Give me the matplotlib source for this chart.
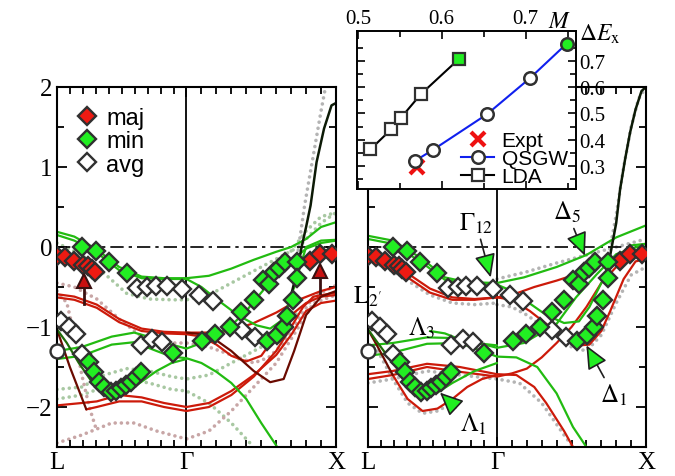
import numpy as np
import matplotlib
matplotlib.use('Agg')
import matplotlib.pyplot as plt
from matplotlib.lines import Line2D

plt.rcParams['font.family'] = ['Liberation Serif', 'DejaVu Serif']
plt.rcParams['mathtext.fontset'] = 'stix'

# ---------------- k-path positions ----------------
KL, KG, KX = -0.866, 0.0, 1.0
k_tick_labels = ['L', 'Γ', 'X']

# ---------------- ARPES points (shared by both panels) ----------------
maj_k = [-0.865, -0.81, -0.75, -0.69, -0.66, -0.635, -0.61, 0.827, 0.893, 0.971]
maj_e = [-0.11, -0.13, -0.18, -0.22, -0.24, -0.27, -0.31, -0.17, -0.09, -0.09]

min_k = [-0.696, -0.602, -0.518, -0.40,
         -0.651, -0.618, -0.584, -0.551, -0.507, -0.473, -0.44, -0.407, -0.373, -0.34, -0.307,
         -0.087,
         0.104, 0.193, 0.289, 0.367, 0.449, 0.511, 0.549, 0.582, 0.616, 0.66, 0.742,
         0.538, 0.604, 0.649, 0.671, 0.711, 0.742]
min_e = [0.004, -0.054, -0.19, -0.325,
         -1.44, -1.567, -1.683, -1.754, -1.817, -1.796, -1.767, -1.725, -1.683, -1.629, -1.567,
         -1.33,
         -1.171, -1.088, -0.996, -0.817, -0.663, -0.413, -0.463, -0.308, -0.267, -0.19, -0.19,
         -1.18, -1.10, -1.004, -0.858, -0.658, -0.392]

avg_k = [-0.84, -0.784, -0.74, -0.696, -0.329, -0.262, -0.207, -0.133, -0.029,
         0.087, 0.176, -0.307, -0.229, -0.162, 0.371, 0.46]
avg_e = [-0.92, -1.0, -1.09, -1.34, -0.516, -0.504, -0.491, -0.491, -0.525,
         -0.60, -0.68, -1.225, -1.15, -1.19, -1.04, -1.12]

circle_k = [KL]
circle_e = [-1.30]

arrow_k = [-0.684, 0.893]
arrow_tip = [-0.43, -0.30]
arrow_base = [-0.71, -0.57]

# ---------------- left panel bands ----------------
left_red = [
    ([-0.866, -0.75, -0.6, -0.45, -0.3, -0.15, 0, 0.15, 0.3, 0.45, 0.6, 0.75, 0.9, 1.0],
     [-0.59, -0.62, -0.72, -0.90, -1.02, -1.06, -1.07, -1.07, -1.05, -0.95, -0.82, -0.66, -0.55, -0.50]),
    ([-0.866, -0.75, -0.6, -0.45, -0.3, -0.15, 0, 0.1, 0.2, 0.3, 0.4, 0.5, 0.6, 0.7, 0.8, 0.9, 1.0],
     [-0.63, -0.66, -0.76, -0.94, -1.05, -1.08, -1.09, -1.12, -1.22, -1.36, -1.43, -1.36, -1.10, -0.85, -0.70, -0.62, -0.60]),
    ([-0.866, -0.7, -0.6, -0.45, -0.3, -0.15, 0, 0.15, 0.3, 0.45, 0.6, 0.7, 0.8, 0.9, 1.0],
     [-1.98, -1.95, -1.93, -1.85, -1.88, -1.95, -2.0, -1.95, -1.80, -1.60, -1.35, -1.10, -0.80, -0.70, -0.67]),
    ([-0.67, -0.6, -0.45, -0.3, -0.15, 0, 0.15, 0.3, 0.45, 0.6, 0.7, 0.78, 0.85, 1.0],
     [-2.03, -2.0, -1.93, -1.93, -2.0, -2.05, -2.0, -1.85, -1.62, -1.30, -1.00, -0.75, -0.62, -0.57]),
]
left_darkred = [
    ([-0.866, -0.78, -0.67], [-1.03, -1.5, -2.03]),
    ([0.0, 0.15, 0.3, 0.45, 0.56, 0.65, 0.72, 0.8, 0.9, 1.0],
     [-1.07, -1.10, -1.30, -1.55, -1.69, -1.65, -1.30, -0.85, -0.62, -0.55]),
]
left_green = [
    ([-0.866, -0.75, -0.6, -0.45, -0.3, -0.15, 0, 0.15, 0.3, 0.45, 0.6, 0.7, 0.8, 0.9, 1.0],
     [0.19, 0.13, -0.03, -0.25, -0.37, -0.39, -0.39, -0.36, -0.27, -0.16, -0.06, 0.0, 0.10, 0.25, 0.31]),
    ([-0.866, -0.75, -0.6, -0.45, -0.3, -0.15, 0, 0.1, 0.2, 0.35, 0.47, 0.56, 0.65, 0.72, 0.8, 0.9, 1.0],
     [0.15, 0.08, -0.07, -0.29, -0.39, -0.40, -0.40, -0.50, -0.65, -0.86, -0.98, -1.02, -0.90, -0.50, 0.0, 0.08, 0.09]),
    ([-0.866, -0.7, -0.5, -0.35, -0.2, -0.1, 0, 0.1, 0.2, 0.3, 0.4, 0.5, 0.6, 0.7, 0.8, 0.9, 1.0],
     [-1.30, -1.25, -1.12, -1.07, -1.15, -1.22, -1.27, -1.20, -1.10, -0.98, -0.80, -0.57, -0.35, -0.18, -0.02, 0.05, 0.08]),
    ([-0.866, -0.7, -0.5, -0.35, -0.2, -0.1, 0, 0.1, 0.2, 0.3, 0.4, 0.5, 0.6, 0.65],
     [-1.40, -1.36, -1.22, -1.19, -1.30, -1.37, -1.39, -1.45, -1.56, -1.70, -1.90, -2.20, -2.48, -2.65]),
    ([-0.62, -0.52, -0.45, -0.35, -0.2, -0.1, 0],
     [-1.72, -1.85, -1.85, -1.75, -1.55, -1.45, -1.40]),
]
left_darkgreen = [
    ([-0.866, -0.8, -0.72, -0.62], [-1.03, -1.20, -1.45, -1.72]),
]
left_black = [
    ([0.70, 0.74, 0.77, 0.80, 0.83, 0.87, 0.92, 0.97, 1.0],
     [-0.60, -0.30, 0.0, 0.25, 0.52, 1.06, 1.48, 1.77, 1.80]),
]
left_dot_green = [
    ([-0.866, -0.7, -0.55, -0.4, -0.25, -0.1, 0, 0.15, 0.3, 0.45, 0.6, 0.75, 0.9, 1.0],
     [0.05, -0.10, -0.33, -0.58, -0.65, -0.66, -0.66, -0.60, -0.45, -0.30, -0.15, 0.0, 0.30, 0.43]),
    ([-0.866, -0.7, -0.55, -0.4, -0.25, -0.1, 0, 0.15, 0.3, 0.45, 0.6, 0.75],
     [-1.78, -1.75, -1.60, -1.52, -1.55, -1.62, -1.65, -1.60, -1.45, -1.30, -1.15, -0.80]),
    ([-0.866, -0.7, -0.55, -0.4, -0.25, -0.1, 0, 0.15, 0.3, 0.45],
     [-1.90, -1.85, -1.75, -1.65, -1.70, -1.78, -1.80, -1.95, -2.20, -2.50]),
    ([0.70, 0.80, 0.90, 1.0], [-0.05, 0.20, 0.38, 0.43]),
]
left_dot_red = [
    ([-0.866, -0.8, -0.75, -0.7, -0.65, -0.6], [-0.55, -0.70, -1.10, -1.60, -2.00, -2.30]),
    ([-0.866, -0.7, -0.5, -0.35, -0.2, 0, 0.15, 0.3, 0.45, 0.6, 0.75, 0.85, 1.0],
     [-2.45, -2.35, -2.20, -2.20, -2.30, -2.40, -2.30, -2.05, -1.75, -1.45, -1.00, -0.70, -0.60]),
    ([-0.866, -0.75, -0.6, -0.45, -0.3, -0.15, 0, 0.15, 0.3, 0.45, 0.55, 0.65, 0.75, 0.85, 1.0],
     [-0.45, -0.50, -0.65, -0.90, -1.12, -1.20, -1.20, -1.25, -1.35, -1.45, -1.38, -1.20, -0.90, -0.62, -0.48]),
]
left_dot_gray = [
    ([0.72, 0.75, 0.79, 0.83, 0.86, 0.90, 0.93, 0.95], [-0.5, 0.0, 0.52, 0.95, 1.27, 1.70, 2.0, 2.2]),
]

# ---------------- right panel bands ----------------
right_red = [
    ([-0.866, -0.75, -0.6, -0.45, -0.3, -0.15, 0, 0.1, 0.22, 0.33, 0.45, 0.55, 0.62, 0.7, 0.76, 0.85, 0.93, 1.0],
     [-0.10, -0.18, -0.33, -0.52, -0.63, -0.65, -0.63, -0.66, -0.80, -0.96, -1.15, -1.23, -1.22, -1.05, -0.80, -0.40, -0.18, -0.15]),
    ([-0.866, -0.75, -0.6, -0.45, -0.3, -0.15, 0, 0.1, 0.25, 0.4, 0.55, 0.7, 0.85, 1.0],
     [-0.14, -0.22, -0.38, -0.57, -0.66, -0.66, -0.63, -0.60, -0.50, -0.42, -0.33, -0.22, -0.11, -0.10]),
    ([-0.866, -0.7, -0.47, -0.25, 0, 0.13, 0.25, 0.33, 0.45, 0.51, 0.6],
     [-1.59, -1.55, -1.46, -1.50, -1.59, -1.60, -1.75, -1.95, -2.30, -2.50, -2.80]),
    ([-0.866, -0.7, -0.47, -0.25, 0, 0.1, 0.2, 0.3, 0.4, 0.5, 0.6, 0.7, 0.8, 0.9, 1.0],
     [-1.65, -1.60, -1.50, -1.56, -1.62, -1.58, -1.52, -1.38, -1.20, -1.00, -0.75, -0.45, -0.25, -0.12, -0.10]),
    ([-0.7, -0.6, -0.5, -0.4, -0.3, -0.2, -0.1, 0],
     [-1.60, -1.90, -2.05, -2.02, -1.90, -1.75, -1.65, -1.60]),
]
right_darkred = [
    ([-0.866, -0.8, -0.7], [-1.03, -1.25, -1.60]),
]
right_green = [
    ([-0.866, -0.7, -0.5, -0.35, -0.2, 0, 0.18, 0.4, 0.6, 0.8, 1.0],
     [0.14, 0.08, -0.15, -0.38, -0.44, -0.45, -0.38, -0.25, -0.10, 0.12, 0.27]),
    ([-0.866, -0.7, -0.5, -0.35, -0.2, 0, 0.1, 0.2, 0.33, 0.45, 0.55, 0.62, 0.7, 0.8, 0.9, 1.0],
     [0.10, 0.04, -0.20, -0.41, -0.46, -0.47, -0.55, -0.68, -0.85, -0.95, -0.93, -0.75, -0.45, -0.15, 0.02, 0.04]),
    ([-0.866, -0.7, -0.47, -0.25, 0, 0.18, 0.4, 0.53, 0.67, 0.8, 1.0],
     [-1.23, -1.20, -1.13, -1.14, -1.26, -1.20, -0.96, -0.63, -0.34, -0.09, 0.04]),
    ([-0.866, -0.7, -0.47, -0.25, 0, 0.13, 0.27, 0.4, 0.51, 0.6, 0.65],
     [-1.36, -1.32, -1.21, -1.20, -1.37, -1.38, -1.50, -1.83, -2.25, -2.50, -2.65]),
    ([-0.45, -0.35, -0.23, -0.1, 0], [-1.05, -1.08, -1.17, -1.21, -1.23]),
    ([-0.6, -0.5, -0.4, -0.3, -0.15, 0], [-1.68, -1.82, -1.82, -1.70, -1.55, -1.45]),
]
right_darkgreen = [
    ([-0.866, -0.8, -0.7, -0.6], [-1.03, -1.20, -1.45, -1.68]),
]
right_black = [
    ([0.72, 0.76, 0.80, 0.826, 0.86, 0.893, 0.93, 0.97, 1.0],
     [-0.40, -0.10, 0.30, 0.72, 1.10, 1.43, 1.72, 1.95, 2.0]),
]
right_dot_gray = [
    ([-0.866, -0.75, -0.6, -0.45, -0.3, -0.15, 0], [-0.17, -0.25, -0.42, -0.60, -0.70, -0.72, -0.70]),
    ([0, 0.2, 0.4, 0.6, 0.8, 1.0], [-0.40, -0.31, -0.20, -0.10, 0.0, 0.10]),
    ([0, 0.1, 0.2, 0.35, 0.5, 0.6, 0.7, 0.8, 0.9, 1.0],
     [-0.72, -0.75, -0.85, -1.05, -1.25, -1.30, -1.10, -0.70, -0.35, -0.25]),
    ([-0.866, -0.7, -0.47, -0.25, 0, 0.15, 0.3, 0.45, 0.55],
     [-1.70, -1.65, -1.55, -1.60, -1.65, -1.70, -1.95, -2.35, -2.60]),
    ([-0.8, -0.7, -0.6, -0.5, -0.4, -0.3], [-1.30, -1.65, -1.95, -2.08, -2.05, -1.95]),
    ([0.75, 0.80, 0.85, 0.90, 0.95, 1.0], [-0.10, 0.40, 1.00, 1.50, 1.85, 2.0]),
]

# ---------------- inset data ----------------
lda_M = [0.515, 0.540, 0.551, 0.575, 0.620]
lda_dE = [0.363, 0.440, 0.482, 0.573, 0.706]
qsgw_M = [0.568, 0.589, 0.654, 0.705, 0.749]
qsgw_dE = [0.319, 0.360, 0.497, 0.634, 0.766]
expt_M = [0.570]
expt_dE = [0.294]

# ---------------- colours ----------------
C_RED = '#cc1a0a'
C_DRED = '#6a0a00'
C_GRN = '#22bb11'
C_DGRN = '#1f6a0a'
C_BLK = '#0c1a06'
C_DOT_G = '#a8c8a2'
C_DOT_R = '#c8a6a6'
C_DOT_GR = '#b4b4b4'
F_RED = '#ee1a12'
F_GRN = '#22ee22'
EDGE = '#303030'
DMS = 9.6

fig = plt.figure(figsize=(6.75, 4.77), dpi=100)
axL = fig.add_axes([57 / 675, 1 - 448 / 477, 279 / 675, 360 / 477])
axR = fig.add_axes([368 / 675, 1 - 448 / 477, 278 / 675, 360 / 477])
axI = fig.add_axes([357 / 675, 1 - 190 / 477, 219 / 675, 158 / 477], zorder=10)

DOT = dict(lw=2.6, ls=(0, (0.01, 1.7)), dash_capstyle='round')


def draw_curves(ax, curves, color, dotted=False, lw=1.6, z=2):
    for kk, ee in curves:
        if dotted:
            ax.plot(kk, ee, color=color, zorder=1, **DOT)
        else:
            ax.plot(kk, ee, color=color, lw=lw, zorder=z, solid_capstyle='round')


def style_band(ax, ylabels):
    ax.set_xlim(KL, KX)
    ax.set_ylim(-2.5, 2.0)
    ax.set_xticks([KL, KG, KX])
    ax.set_xticklabels(k_tick_labels, fontsize=18)
    ax.set_xticks(list(np.linspace(KL, KG, 11)) + list(np.linspace(KG, KX, 11)), minor=True)
    ax.set_yticks([-2, -1, 0, 1, 2])
    ax.set_yticks([-2.5, -1.5, -0.5, 0.5, 1.5], minor=True)
    if ylabels:
        ax.set_yticklabels(['−2', '−1', '0', '1', '2'], fontsize=18)
    else:
        ax.set_yticklabels([])
    ax.tick_params(which='both', direction='in', top=True, right=True, width=1.3)
    ax.tick_params(which='major', length=7, pad=3)
    ax.tick_params(which='minor', length=5)
    for s in ax.spines.values():
        s.set_linewidth(1.5)
    ax.axvline(KG, color='black', lw=1.3, zorder=1.5)
    ax.axhline(0, color='black', lw=1.2, ls=(0, (8, 3, 2, 3)), zorder=1.5)


def draw_points(ax):
    ax.plot(avg_k, avg_e, 'D', ms=DMS, mfc='white', mec=EDGE, mew=1.7, ls='none', zorder=5)
    ax.plot(maj_k, maj_e, 'D', ms=DMS, mfc=F_RED, mec=EDGE, mew=1.7, ls='none', zorder=6)
    ax.plot(min_k, min_e, 'D', ms=DMS, mfc=F_GRN, mec=EDGE, mew=1.7, ls='none', zorder=6)
    ax.plot(circle_k, circle_e, 'o', ms=10, mfc='white', mec=EDGE, mew=1.7, ls='none',
            zorder=7, clip_on=False)


# ---- left panel ----
style_band(axL, True)
draw_curves(axL, left_dot_green, C_DOT_G, dotted=True)
draw_curves(axL, left_dot_red, C_DOT_R, dotted=True)
draw_curves(axL, left_dot_gray, C_DOT_GR, dotted=True)
draw_curves(axL, left_red, C_RED)
draw_curves(axL, left_green, C_GRN)
draw_curves(axL, left_darkred, C_DRED)
draw_curves(axL, left_darkgreen, C_DGRN)
draw_curves(axL, left_black, C_BLK, lw=1.8)
draw_points(axL)
for kk, et, eb in zip(arrow_k, arrow_tip, arrow_base):
    axL.plot([kk, kk], [eb, et], color='#3a1010', lw=2.0, zorder=7)
    axL.plot([kk], [et], '^', ms=10, mfc='#c81010', mec='#3a1010', mew=1.5, zorder=8)

leg_handles = [
    Line2D([], [], marker='D', ls='none', ms=DMS, mfc=F_RED, mec=EDGE, mew=1.7),
    Line2D([], [], marker='D', ls='none', ms=DMS, mfc=F_GRN, mec=EDGE, mew=1.7),
    Line2D([], [], marker='D', ls='none', ms=DMS, mfc='white', mec=EDGE, mew=1.7),
]
axL.legend(leg_handles, ['maj', 'min', 'avg'], loc='upper left', bbox_to_anchor=(0.04, 0.97),
           frameon=False, handlelength=0.8, handletextpad=0.4, labelspacing=0.05,
           borderaxespad=0, prop={'family': 'Liberation Sans', 'size': 17})

# ---- right panel ----
style_band(axR, False)
draw_curves(axR, right_dot_gray, C_DOT_GR, dotted=True)
draw_curves(axR, right_red, C_RED)
draw_curves(axR, right_green, C_GRN)
draw_curves(axR, right_darkred, C_DRED)
draw_curves(axR, right_darkgreen, C_DGRN)
draw_curves(axR, right_black, C_BLK, lw=1.8)
draw_points(axR)

ARW = dict(arrowstyle='-|>,head_length=0.8,head_width=0.36', fc=F_GRN, ec='#202020', lw=1.2,
           shrinkA=1, shrinkB=0)
axR.annotate(r'$\Gamma_{12}$', xy=(-0.042, -0.38), xytext=(-0.14, 0.30), fontsize=18,
             ha='center', va='center', arrowprops=ARW, zorder=9)
axR.annotate(r'$\Delta_5$', xy=(0.59, -0.11), xytext=(0.47, 0.44), fontsize=18,
             ha='center', va='center', arrowprops=ARW, zorder=9)
axR.annotate(r'$\Delta_1$', xy=(0.60, -1.23), xytext=(0.78, -1.84), fontsize=18,
             ha='center', va='center', arrowprops=ARW, zorder=9)
axR.annotate(r'$\Lambda_1$', xy=(-0.383, -1.82), xytext=(-0.16, -2.21), fontsize=18,
             ha='center', va='center', arrowprops=ARW, zorder=9)
axR.text(-0.505, -1.0, r'$\Lambda_3$', fontsize=18, ha='center', va='center', zorder=9)
axR.text(-0.87, -0.61, r"$\mathrm{L}_{2'}$", fontsize=18, ha='center', va='center', zorder=9,
         clip_on=False)

# ---- inset ----
axI.set_facecolor('white')
axI.plot(lda_M, lda_dE, color='black', lw=1.5, zorder=2)
axI.plot(lda_M[:-1], lda_dE[:-1], 's', ms=8, mfc='white', mec=EDGE, mew=1.6, zorder=3)
axI.plot(lda_M[-1:], lda_dE[-1:], 's', ms=8, mfc=F_GRN, mec=EDGE, mew=1.6, zorder=3)
axI.plot(qsgw_M, qsgw_dE, color='#1020ee', lw=1.5, zorder=2)
axI.plot(qsgw_M[:-1], qsgw_dE[:-1], 'o', ms=9, mfc='white', mec=EDGE, mew=1.8, zorder=3)
axI.plot(qsgw_M[-1:], qsgw_dE[-1:], 'o', ms=9, mfc=F_GRN, mec=EDGE, mew=1.8, zorder=3,
         clip_on=False)
axI.plot(expt_M, expt_dE, 'x', ms=10, mec='#ee1111', mew=3, zorder=2)
axI.set_xlim(0.499, 0.760)
axI.set_ylim(0.212, 0.814)
axI.set_xticks([0.5, 0.6, 0.7])
axI.set_xticklabels(['0.5', '0.6', '0.7'], fontsize=15)
axI.set_xticks([0.55, 0.65, 0.75], minor=True)
axI.set_yticks([0.3, 0.4, 0.5, 0.6, 0.7])
axI.set_yticklabels(['0.3', '0.4', '0.5', '0.6', '0.7'], fontsize=15)
axI.set_yticks([0.25, 0.35, 0.45, 0.55, 0.65, 0.75], minor=True)
axI.tick_params(which='both', direction='in', top=True, bottom=True, left=True, right=True,
                labeltop=True, labelbottom=False, labelright=True, labelleft=False, width=1.2)
axI.tick_params(which='major', length=6, pad=2)
axI.tick_params(which='minor', length=4)
for s in axI.spines.values():
    s.set_linewidth(1.4)
inset_handles = [
    Line2D([], [], marker='x', ls='none', ms=10, mec='#ee1111', mew=3),
    Line2D([], [], marker='o', color='#1020ee', lw=1.5, ms=9, mfc='white', mec=EDGE, mew=1.8),
    Line2D([], [], marker='s', color='black', lw=1.5, ms=8, mfc='white', mec=EDGE, mew=1.6),
]
axI.legend(inset_handles, ['Expt', 'QSGW', 'LDA'], loc='lower right',
           bbox_to_anchor=(1.0, -0.035), frameon=False,
           handlelength=1.6, handletextpad=0.35, labelspacing=-0.05, borderaxespad=0.0,
           prop={'family': 'Liberation Sans', 'size': 15})
fig.text(560 / 675, 1 - 22 / 477, r'$M$', fontsize=17, ha='center', va='center')
fig.text(600 / 675, 1 - 34 / 477, r'$\Delta E_{\mathrm{x}}$', fontsize=17, ha='center', va='center')

fig.savefig('out.png', dpi=100)
